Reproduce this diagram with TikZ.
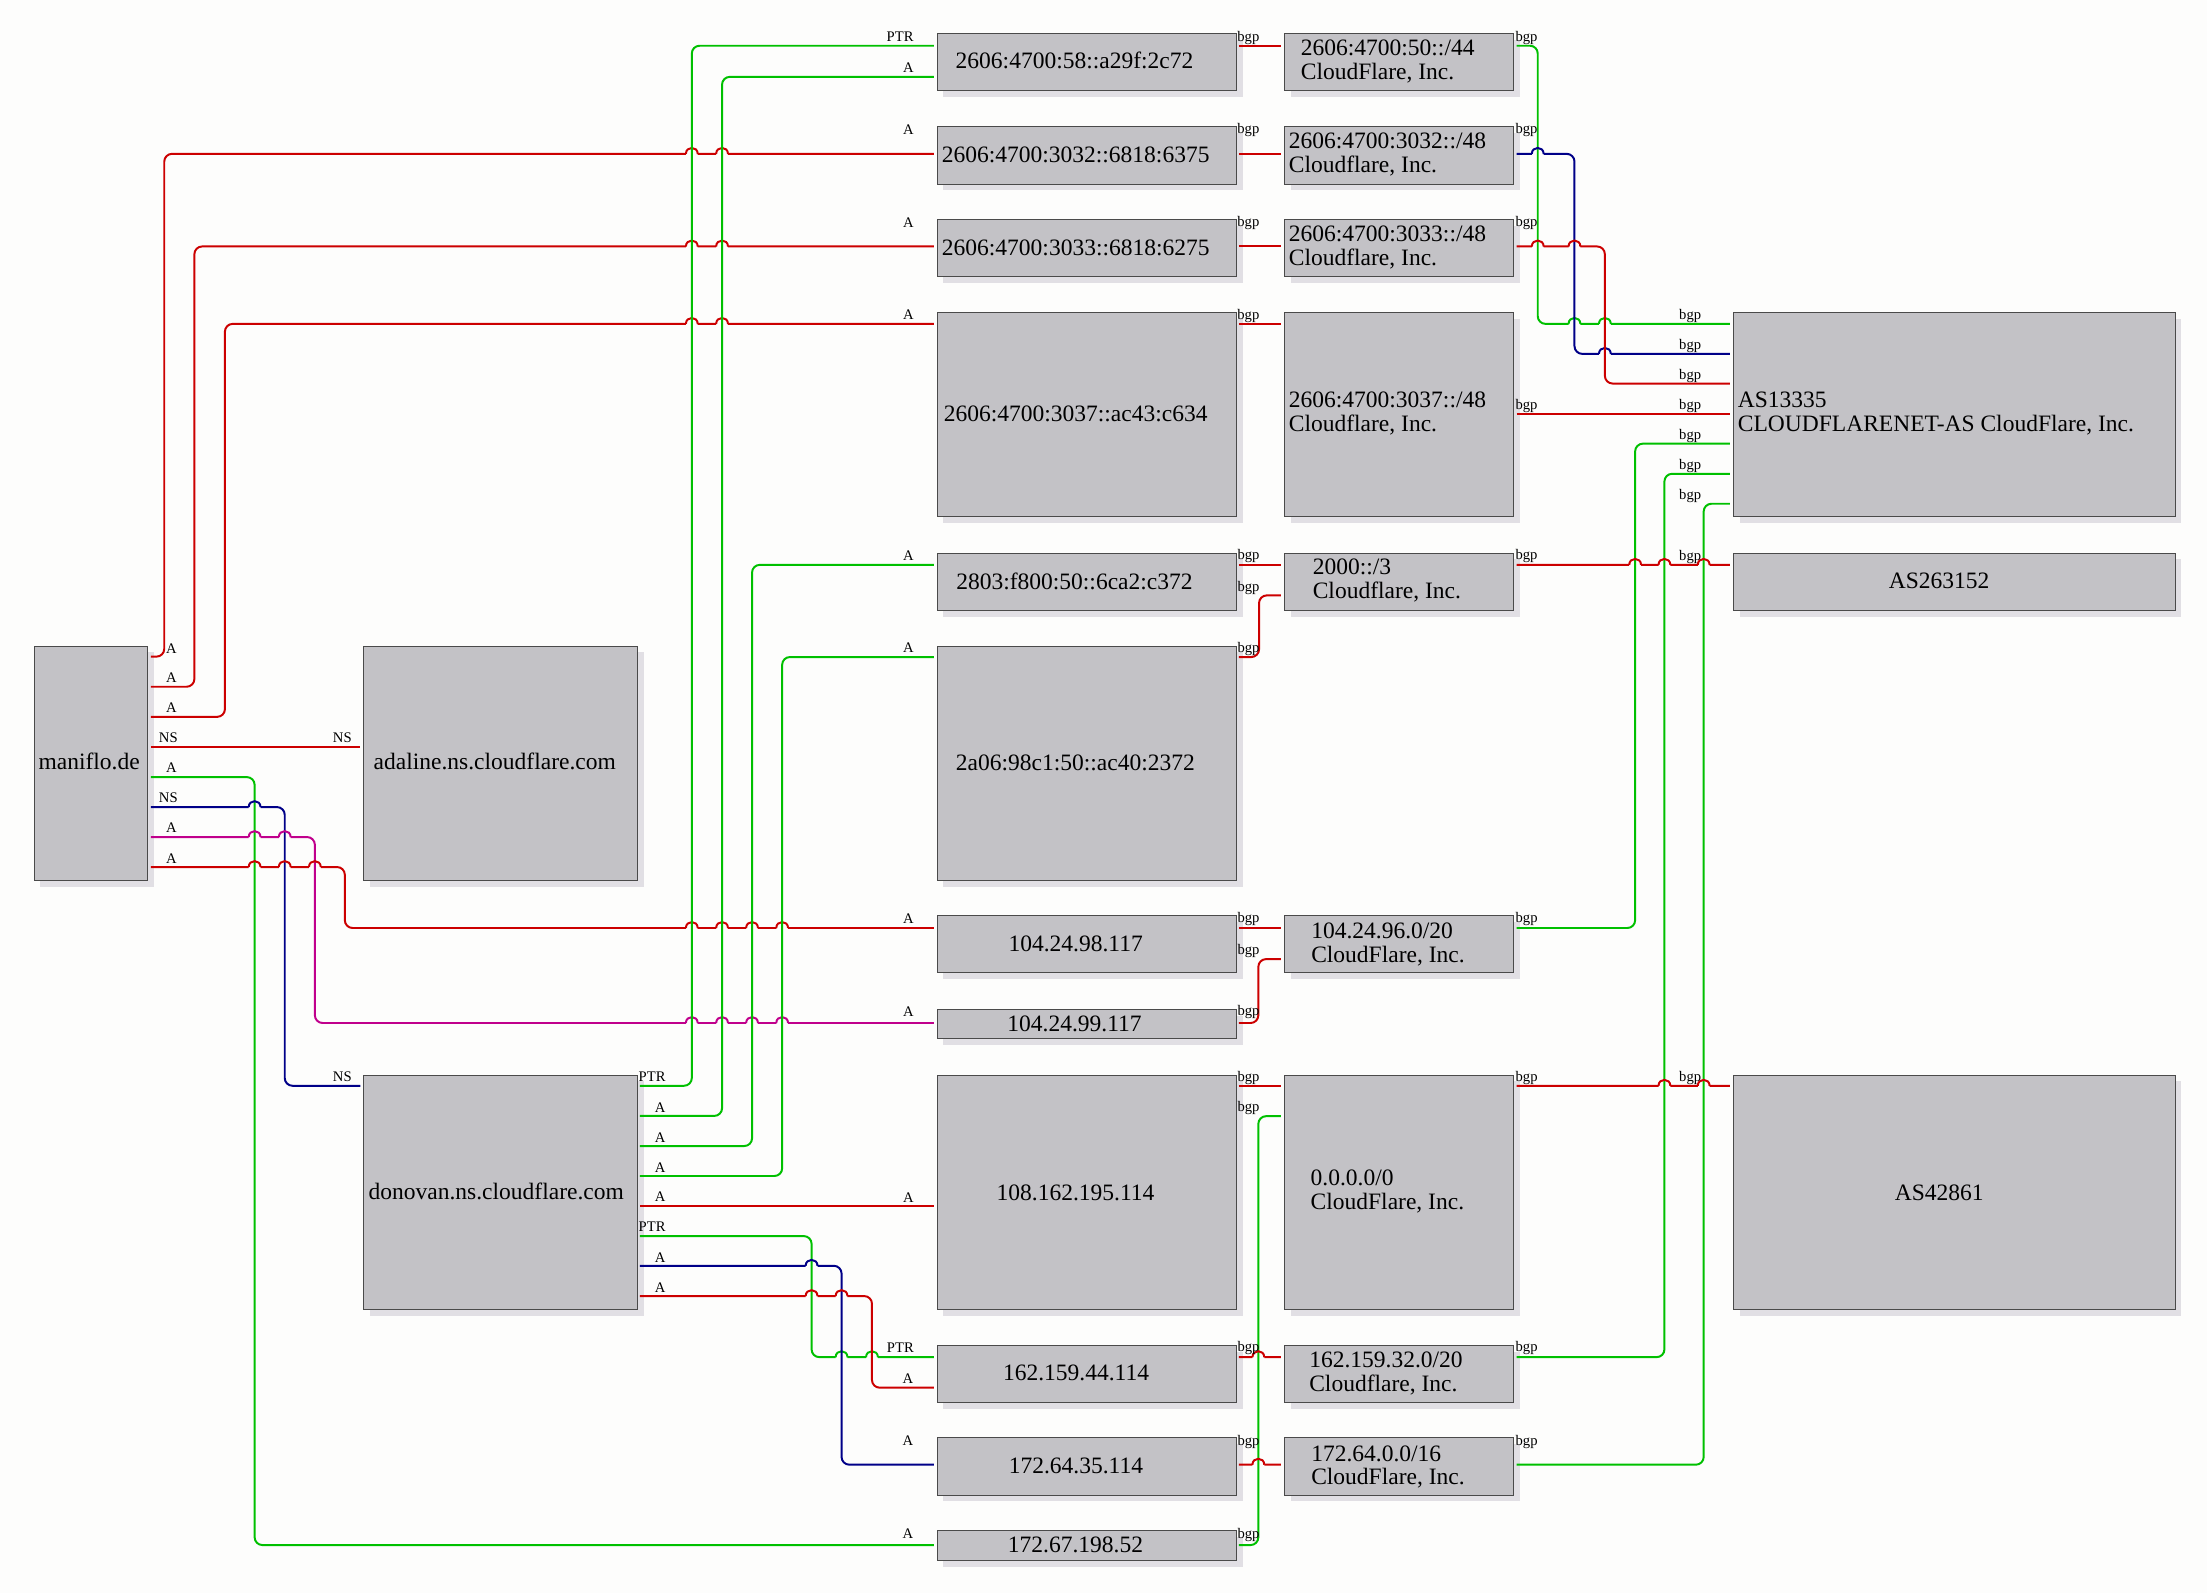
\documentclass[tikz,border=0pt]{standalone}
\usepackage{fontspec}
\setmainfont{Liberation Serif}[Ligatures=NoCommon]
\usetikzlibrary{shadows}
\definecolor{boxfill}{HTML}{C3C2C6}
\definecolor{boxline}{HTML}{4A4A4A}
\definecolor{shadowc}{HTML}{E1DFE4}
\definecolor{ered}{HTML}{CC0000}
\definecolor{egreen}{HTML}{00C000}
\definecolor{enavy}{HTML}{000088}
\definecolor{emag}{HTML}{C0008C}
\definecolor{bgc}{HTML}{FDFDFC}
\newcommand\hop[2]{-- ({#1-4.2},#2) ({#1-4.2},#2) .. controls ({#1-4.2},{#2-5.6}) and ({#1+4.2},{#2-5.6}) .. ({#1+4.2},#2) ({#1+4.2},#2)}
\newcommand\twol[2]{\begin{tabular}[t]{@{}l@{}}#1\\#2\end{tabular}}
\newcommand\bx[5]{\node[nbox,minimum width=#4pt,minimum height=#5pt] (#1) at (#2,#3) {};}
\tikzset{
  nbox/.style={draw=boxline, fill=boxfill, line width=0.7pt, inner sep=0pt, anchor=north west, rectangle,
    drop shadow={shadow xshift=4.5pt, shadow yshift=-4.5pt, fill=shadowc, draw=none, opacity=1}},
  txt/.style={inner sep=0pt, anchor=base west, font=\fontsize{16.7pt}{16.9pt}\selectfont},
  lbl/.style={inner sep=0pt, text=black, font=\fontsize{10.4pt}{10.4pt}\selectfont},
  wire/.style={line width=1.4pt, rounded corners=5.5pt, shorten >=2pt},
  wred/.style={wire, draw=ered},
  wgreen/.style={wire, draw=egreen},
  wnavy/.style={wire, draw=enavy},
  wmag/.style={wire, draw=emag}
}
\begin{document}
\begin{tikzpicture}[x=1pt,y=-1pt]
\fill[bgc] (0,0) rectangle (1568,1131.8);
\useasboundingbox (0,0) rectangle (1568,1131.8);
% ---------- boxes ----------
\bx{maniflo}{23.9}{458.7}{80.8}{166.4}
\bx{adaline}{258.1}{458.7}{194.3}{166.4}
\bx{donovan}{258.1}{763.4}{194.3}{166.4}
\bx{n58}{665.4}{23.6}{212.6}{40.6}
\bx{n3032}{665.4}{89.8}{212.6}{40.6}
\bx{n3033}{665.4}{155.8}{212.6}{40.6}
\bx{n3037}{665.4}{222.0}{212.6}{144.9}
\bx{n2803}{665.4}{392.6}{212.6}{40.6}
\bx{n2a06}{665.4}{458.7}{212.6}{166.4}
\bx{n9811}{665.4}{650.3}{212.6}{40.6}
\bx{n9911}{665.4}{716.7}{212.6}{21.1}
\bx{n108}{665.4}{763.4}{212.6}{166.4}
\bx{n16244}{665.4}{955.4}{212.6}{40.6}
\bx{n17264}{665.4}{1021.2}{212.6}{40.6}
\bx{n17267}{665.4}{1087.3}{212.6}{21.1}
\bx{c50}{912}{23.6}{163}{40.6}
\bx{c3032}{912}{89.8}{163}{40.6}
\bx{c3033}{912}{155.8}{163}{40.6}
\bx{c3037}{912}{222.0}{163}{144.9}
\bx{c2000}{912}{392.6}{163}{40.6}
\bx{c10496}{912}{650.3}{163}{40.6}
\bx{c0000}{912}{763.4}{163}{166.4}
\bx{c16232}{912}{955.4}{163}{40.6}
\bx{c17264}{912}{1021.2}{163}{40.6}
\bx{as13335}{1231}{222.0}{314}{144.9}
\bx{as263152}{1231}{392.6}{314}{40.6}
\bx{as42861}{1231}{763.4}{314}{166.4}
% ---------- box texts ----------
\node[txt] (t-maniflo) at (27.2,547) {maniflo.de};
\node[txt] (t-adaline) at (265.3,547) {adaline.ns.cloudflare.com};
\node[txt] (t-donovan) at (261.7,852.2) {donovan.ns.cloudflare.com};
\node[txt] (t-n58) at (678.8,49.0) {2606:4700:58::a29f:2c72};
\node[txt] (t-n3032) at (668.9,115.5) {2606:4700:3032::6818:6375};
\node[txt] (t-n3033) at (669,181.4) {2606:4700:3033::6818:6275};
\node[txt] (t-n3037) at (670.3,299.4) {2606:4700:3037::ac43:c634};
\node[txt] (t-n2803) at (679.2,418.6) {2803:f800:50::6ca2:c372};
\node[txt] (t-n2a06) at (678.9,547.5) {2a06:98c1:50::ac40:2372};
\node[txt] (t-n9811) at (716.3,676) {104.24.98.117};
\node[txt] (t-n9911) at (715.5,732.9) {104.24.99.117};
\node[txt] (t-n108) at (707.9,852.6) {108.162.195.114};
\node[txt] (t-n16244) at (712.4,981) {162.159.44.114};
\node[txt] (t-n17264) at (716.5,1047) {172.64.35.114};
\node[txt] (t-n17267) at (715.9,1103) {172.67.198.52};
\node[txt] (t-c50) at (924,39.3) {\twol{2606:4700:50::/44}{CloudFlare, Inc.}};
\node[txt] (t-c3032) at (915.5,105.6) {\twol{2606:4700:3032::/48}{Cloudflare, Inc.}};
\node[txt] (t-c3033) at (915.5,171.9) {\twol{2606:4700:3033::/48}{Cloudflare, Inc.}};
\node[txt] (t-c3037) at (915.5,289.6) {\twol{2606:4700:3037::/48}{Cloudflare, Inc.}};
\node[txt] (t-c2000) at (932.5,408.4) {\twol{2000::/3}{Cloudflare, Inc.}};
\node[txt] (t-c10496) at (931.4,666.6) {\twol{104.24.96.0/20}{CloudFlare, Inc.}};
\node[txt] (t-c0000) at (931,842.2) {\twol{0.0.0.0/0}{CloudFlare, Inc.}};
\node[txt] (t-c16232) at (930,971.8) {\twol{162.159.32.0/20}{Cloudflare, Inc.}};
\node[txt] (t-c17264) at (931.4,1038) {\twol{172.64.0.0/16}{CloudFlare, Inc.}};
\node[txt] (t-as13335) at (1234.5,289.6) {\twol{AS13335}{CLOUDFLARENET-AS CloudFlare, Inc.}};
\node[txt] (t-as263152) at (1341.7,418.2) {AS263152};
\node[txt] (t-as42861) at (1346,852.6) {AS42861};
% ---------- maniflo.de edges ----------
\draw[wred] (maniflo.east |- 0,466.5) ++(1.8,0) -- (116.7,466.5) -- (116.7,109.3) \hop{491.5}{109.3}\hop{513}{109.3} -- (n3032.west |- 0,109.3)
  node[lbl] (e1t) at (121.8,460.7) {A} node[lbl] (e1h) at (645.4,91.9) {A};
\draw[wred] (maniflo.east |- 0,487.9) ++(1.8,0) -- (138.1,487.9) -- (138.1,175.1) \hop{491.5}{175.1}\hop{513}{175.1} -- (n3033.west |- 0,175.1)
  node[lbl] (e2t) at (121.8,481.8) {A} node[lbl] (e2h) at (645.4,158.1) {A};
\draw[wred] (maniflo.east |- 0,509.3) ++(1.8,0) -- (159.8,509.3) -- (159.8,230.1) \hop{491.5}{230.1}\hop{513}{230.1} -- (n3037.west |- 0,230.1)
  node[lbl] (e3t) at (121.8,502.8) {A} node[lbl] (e3h) at (645.4,223.8) {A};
\draw[wred] (maniflo.east |- 0,530.7) ++(1.8,0) -- (adaline.west |- 0,530.7)
  node[lbl] (e4t) at (119.6,524.2) {NS} node[lbl] (e4h) at (243.2,524.2) {NS};
\draw[wgreen] (maniflo.east |- 0,552.1) ++(1.8,0) -- (180.9,552.1) -- (180.9,1097.7) -- (n17267.west |- 0,1097.7)
  node[lbl] (e5t) at (121.8,545.6) {A} node[lbl] (e5h) at (645.1,1089.6) {A};
\draw[wnavy] (maniflo.east |- 0,573.4) ++(1.8,0) \hop{180.9}{573.4} -- (202.3,573.4) -- (202.3,771.4) -- (donovan.west |- 0,771.4)
  node[lbl] (e6t) at (119.6,567) {NS} node[lbl] (e6h) at (243.2,765.2) {NS};
\draw[wmag] (maniflo.east |- 0,594.7) ++(1.8,0) \hop{180.9}{594.7}\hop{202.3}{594.7} -- (223.7,594.7) -- (223.7,726.8)
  \hop{491.5}{726.8}\hop{513}{726.8}\hop{534.3}{726.8}\hop{555.7}{726.8} -- (n9911.west |- 0,726.8)
  node[lbl] (e7t) at (121.8,588.3) {A} node[lbl] (e7h) at (645.3,718.4) {A};
\draw[wred] (maniflo.east |- 0,616) ++(1.8,0) \hop{180.9}{616}\hop{202.3}{616}\hop{223.7}{616} -- (245,616) -- (245,659.3)
  \hop{491.5}{659.3}\hop{513}{659.3}\hop{534.3}{659.3}\hop{555.7}{659.3} -- (n9811.west |- 0,659.3)
  node[lbl] (e8t) at (121.8,609.7) {A} node[lbl] (e8h) at (645.3,652.5) {A};
% ---------- donovan edges ----------
\draw[wgreen] (donovan.east |- 0,771.4) ++(1.5,0) -- (491.5,771.4) -- (491.5,32.5) -- (n58.west |- 0,32.5)
  node[lbl] (d1t) at (463.3,765) {PTR} node[lbl] (d1h) at (639.5,26) {PTR};
\draw[wgreen] (donovan.east |- 0,792.8) ++(1.5,0) -- (513,792.8) -- (513,54.6) -- (n58.west |- 0,54.6)
  node[lbl] (d2t) at (469,786.6) {A} node[lbl] (d2h) at (645.4,48.2) {A};
\draw[wgreen] (donovan.east |- 0,814.2) ++(1.5,0) -- (534.3,814.2) -- (534.3,401.3) -- (n2803.west |- 0,401.3)
  node[lbl] (d3t) at (469,808) {A} node[lbl] (d3h) at (645.3,395.1) {A};
\draw[wgreen] (donovan.east |- 0,835.5) ++(1.5,0) -- (555.7,835.5) -- (555.7,466.8) -- (n2a06.west |- 0,466.8)
  node[lbl] (d4t) at (469,829.4) {A} node[lbl] (d4h) at (645.3,460.4) {A};
\draw[wred] (donovan.east |- 0,856.9) ++(1.5,0) -- (n108.west |- 0,856.9)
  node[lbl] (d5t) at (469,850.4) {A} node[lbl] (d5h) at (645.3,850.7) {A};
\draw[wgreen] (donovan.east |- 0,878.2) ++(1.5,0) -- (576.6,878.2) -- (576.6,964.2) \hop{597.9}{964.2}\hop{619.5}{964.2} -- (n16244.west |- 0,964.2)
  node[lbl] (d6t) at (463.3,871.8) {PTR} node[lbl] (d6h) at (639.7,957.2) {PTR};
\draw[wnavy] (donovan.east |- 0,899.3) ++(1.5,0) \hop{576.6}{899.3} -- (597.9,899.3) -- (597.9,1040.6) -- (n17264.west |- 0,1040.6)
  node[lbl] (d7t) at (469,893.5) {A} node[lbl] (d7h) at (645.1,1023.3) {A};
\draw[wred] (donovan.east |- 0,920.8) ++(1.5,0) \hop{576.6}{920.8}\hop{597.9}{920.8} -- (619.5,920.8) -- (619.5,985.9) -- (n16244.west |- 0,985.9)
  node[lbl] (d8t) at (469,914.5) {A} node[lbl] (d8h) at (645.1,979.8) {A};
% ---------- address -> prefix ----------
\draw[wred] (n58.east |- 0,32.5) ++(1.5,0) -- (c50.west |- 0,32.5) node[lbl] (b1t) at (886.9,26.7) {bgp};
\draw[wred] (n3032.east |- 0,109.3) ++(1.5,0) -- (c3032.west |- 0,109.3) node[lbl] (b2t) at (886.9,92.7) {bgp};
\draw[wred] (n3033.east |- 0,175.1) ++(1.5,0) -- (c3033.west |- 0,175.1) node[lbl] (b3t) at (886.9,158.7) {bgp};
\draw[wred] (n3037.east |- 0,230.1) ++(1.5,0) -- (c3037.west |- 0,230.1) node[lbl] (b4t) at (886.9,224.7) {bgp};
\draw[wred] (n2803.east |- 0,401.3) ++(1.5,0) -- (c2000.west |- 0,401.3) node[lbl] (b5t) at (887,395.1) {bgp};
\draw[wred] (n2a06.east |- 0,466.8) ++(1.5,0) -- (894.5,466.8) -- (894.5,423) -- (c2000.west |- 0,423)
  node[lbl] (b6t) at (887,461.1) {bgp} node[lbl] (b6h) at (887,418) {bgp};
\draw[wred] (n9811.east |- 0,659.3) ++(1.5,0) -- (c10496.west |- 0,659.3) node[lbl] (b7t) at (887,653.2) {bgp};
\draw[wred] (n9911.east |- 0,726.8) ++(1.5,0) -- (894,726.8) -- (894,681.4) -- (c10496.west |- 0,681.4)
  node[lbl] (b8t) at (887,718.8) {bgp} node[lbl] (b8h) at (887,675.7) {bgp};
\draw[wred] (n108.east |- 0,771.4) ++(1.5,0) -- (c0000.west |- 0,771.4) node[lbl] (b9t) at (887,765.9) {bgp};
\draw[wgreen] (n17267.east |- 0,1097.7) ++(1.5,0) -- (894,1097.7) -- (894,793) -- (c0000.west |- 0,793)
  node[lbl] (b10t) at (887,1090.4) {bgp} node[lbl] (b10h) at (887,787.4) {bgp};
\draw[wred] (n16244.east |- 0,964.2) ++(1.5,0) \hop{894}{964.2} -- (c16232.west |- 0,964.2) node[lbl] (b11t) at (887,958) {bgp};
\draw[wred] (n17264.east |- 0,1040.6) ++(1.5,0) \hop{894}{1040.6} -- (c17264.west |- 0,1040.6) node[lbl] (b12t) at (887,1024.2) {bgp};
% ---------- prefix -> AS ----------
\draw[wgreen] (c50.east |- 0,32.5) ++(1.8,0) -- (1092.5,32.5) -- (1092.5,230.1) \hop{1118.6}{230.1}\hop{1140.2}{230.1} -- (as13335.west |- 0,230.1)
  node[lbl] (r1t) at (1084.5,26.7) {bgp} node[lbl] (r1h) at (1200.8,224.7) {bgp};
\draw[wnavy] (c3032.east |- 0,109.3) ++(1.8,0) \hop{1092.5}{109.3} -- (1118.6,109.3) -- (1118.6,251.4) \hop{1140.2}{251.4} -- (as13335.west |- 0,251.4)
  node[lbl] (r2t) at (1084.5,92.7) {bgp} node[lbl] (r2h) at (1200.8,245.8) {bgp};
\draw[wred] (c3033.east |- 0,175.1) ++(1.8,0) \hop{1092.5}{175.1}\hop{1118.6}{175.1} -- (1140.2,175.1) -- (1140.2,272.5) -- (as13335.west |- 0,272.5)
  node[lbl] (r3t) at (1084.5,158.7) {bgp} node[lbl] (r3h) at (1200.8,267.2) {bgp};
\draw[wred] (c3037.east |- 0,293.9) ++(1.8,0) -- (as13335.west |- 0,293.9)
  node[lbl] (r4t) at (1084.5,288.5) {bgp} node[lbl] (r4h) at (1200.8,288.5) {bgp};
\draw[wgreen] (c10496.east |- 0,659.3) ++(1.8,0) -- (1161.7,659.3) -- (1161.7,315.2) -- (as13335.west |- 0,315.2)
  node[lbl] (r5t) at (1084.6,653.2) {bgp} node[lbl] (r5h) at (1200.8,309.9) {bgp};
\draw[wgreen] (c16232.east |- 0,964.2) ++(1.8,0) -- (1182.5,964.2) -- (1182.5,336.6) -- (as13335.west |- 0,336.6)
  node[lbl] (r6t) at (1084.6,958) {bgp} node[lbl] (r6h) at (1200.8,331.2) {bgp};
\draw[wgreen] (c17264.east |- 0,1040.6) ++(1.8,0) -- (1210.4,1040.6) -- (1210.4,357.9) -- (as13335.west |- 0,357.9)
  node[lbl] (r7t) at (1084.6,1024.2) {bgp} node[lbl] (r7h) at (1200.8,352.6) {bgp};
\draw[wred] (c2000.east |- 0,401.3) ++(1.8,0) \hop{1161.7}{401.3}\hop{1182.5}{401.3}\hop{1210.4}{401.3} -- (as263152.west |- 0,401.3)
  node[lbl] (r8t) at (1084.5,395.3) {bgp} node[lbl] (r8h) at (1200.8,395.5) {bgp};
\draw[wred] (c0000.east |- 0,771.4) ++(1.8,0) \hop{1182.5}{771.4}\hop{1210.4}{771.4} -- (as42861.west |- 0,771.4)
  node[lbl] (r9t) at (1084.6,766.1) {bgp} node[lbl] (r9h) at (1200.8,766.1) {bgp};
\end{tikzpicture}
\end{document}
